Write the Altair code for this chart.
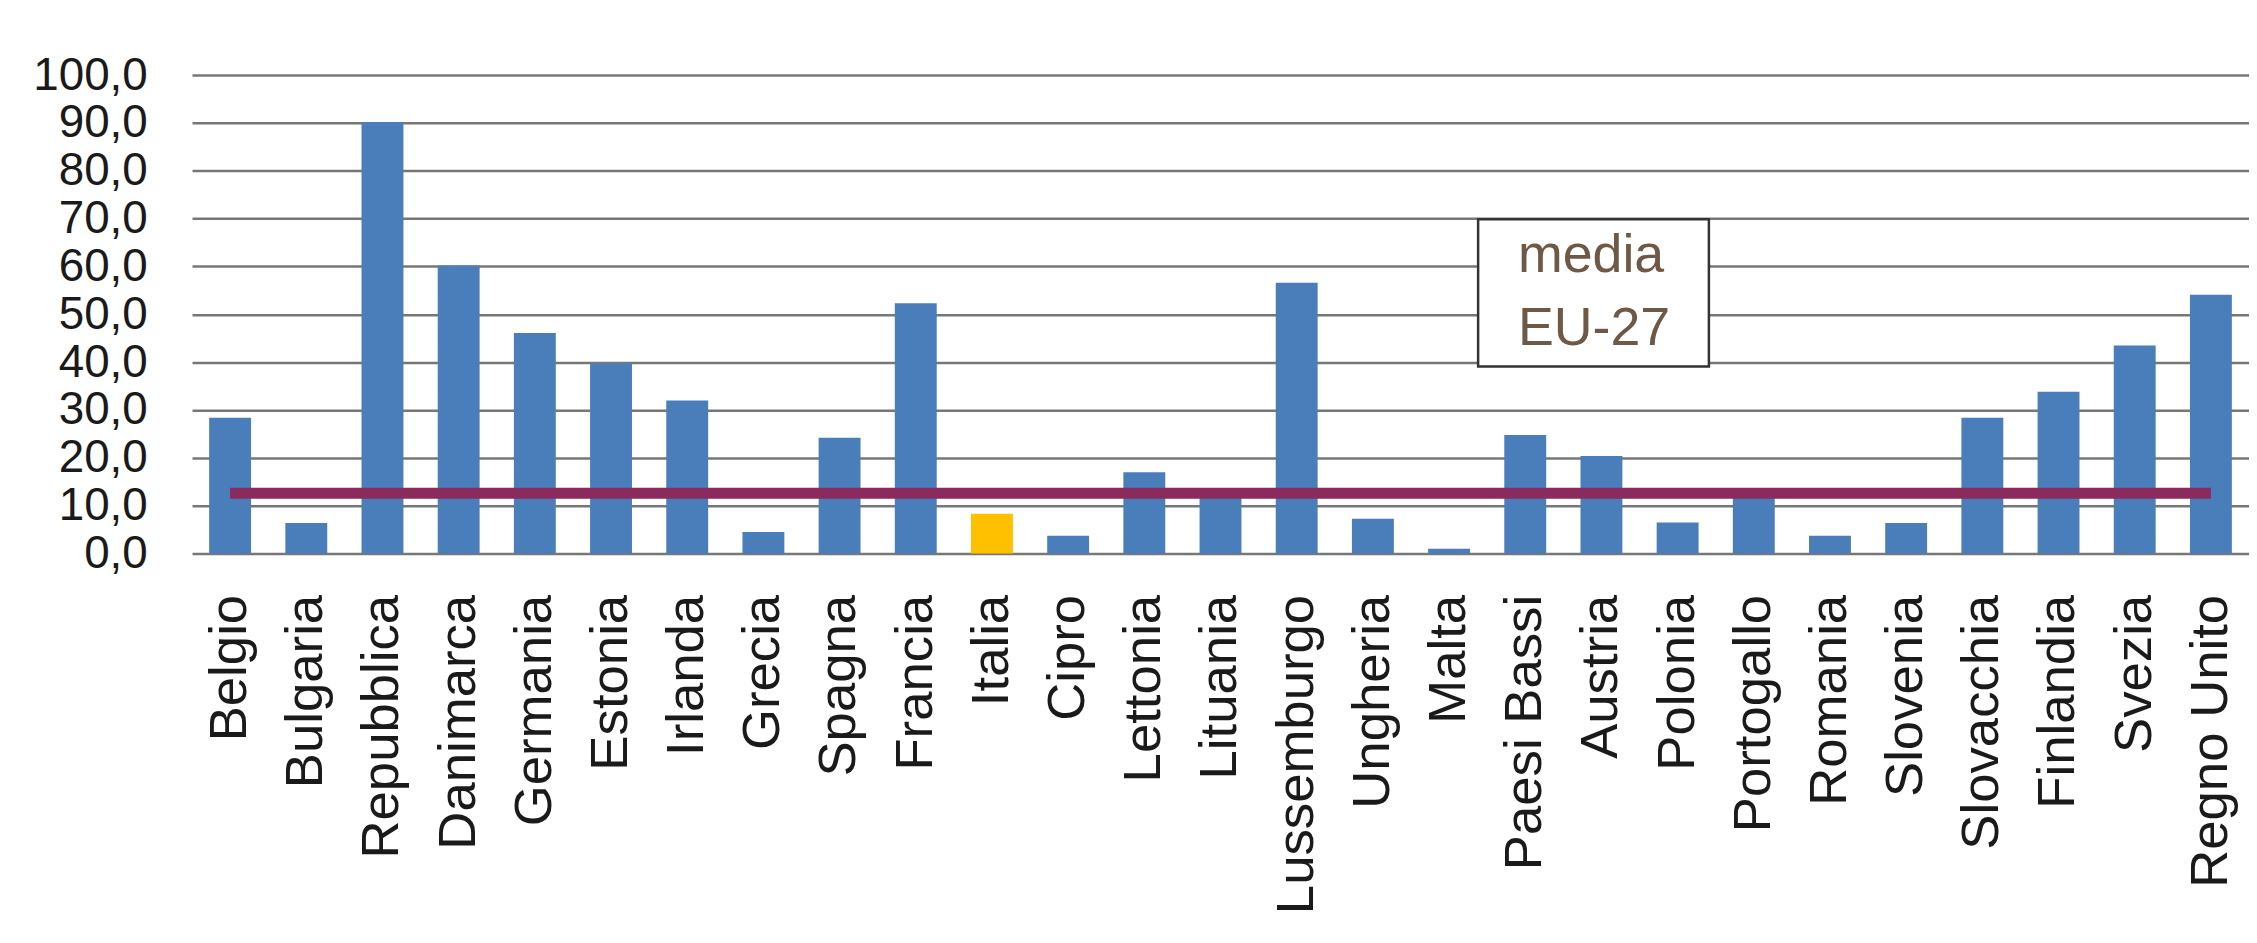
import altair as alt
import pandas as pd

# ---- data ----
paesi = ["Belgio", "Bulgaria", "Repubblica", "Danimarca", "Germania", "Estonia",
         "Irlanda", "Grecia", "Spagna", "Francia", "Italia", "Cipro", "Lettonia",
         "Lituania", "Lussemburgo", "Ungheria", "Malta", "Paesi Bassi", "Austria",
         "Polonia", "Portogallo", "Romania", "Slovenia", "Slovacchia", "Finlandia",
         "Svezia", "Regno Unito"]
valori = [28.4, 6.4, 90.2, 60.2, 46.1, 39.8, 32.0, 4.5, 24.2, 52.3, 8.3, 3.7, 17.0,
          12.2, 56.6, 7.3, 1.0, 24.8, 20.4, 6.5, 12.2, 3.7, 6.4, 28.4, 33.8, 43.5, 54.1]
media_eu27 = 12.6
evidenziato = "Italia"
y_ticks = [0, 10, 20, 30, 40, 50, 60, 70, 80, 90, 100]
legenda_righe = ["media", "EU-27"]

df = pd.DataFrame({
    "paese": paesi,
    "valore": valori,
    "media": [media_eu27] * len(paesi),
})

FONT = "Liberation Sans"
W, H = 2068, 481

x_enc = alt.X("paese:N", sort=paesi,
              scale=alt.Scale(paddingInner=0.45, paddingOuter=0.225),
              axis=alt.Axis(title=None, labelAngle=-90, labelFontSize=53,
                            labelFont=FONT, labelColor="#1a1a1a", labelPadding=41,
                            labelLimit=2000, ticks=False, domain=False, grid=False,
                            labelOverlap=False))

y_scale = alt.Scale(domain=[0, 100], nice=False)

bars = alt.Chart(df).mark_bar().encode(
    x=x_enc,
    y=alt.Y("valore:Q", scale=y_scale,
            axis=alt.Axis(title=None, values=y_ticks, grid=True, gridColor="#777777",
                          gridWidth=2.5, ticks=False, domain=False,
                          labelFontSize=46, labelFont=FONT, labelColor="#1a1a1a",
                          labelPadding=45, labelOverlap=False, labelLimit=2000,
                          labelExpr="replace(format(datum.value, '.1f'), '.', ',')")),
    color=alt.condition(alt.datum.paese == evidenziato,
                        alt.value("#FFC000"), alt.value("#4A7EBB")),
)

linea = alt.Chart(df).mark_line(color="#8B2A5C", strokeWidth=11, strokeCap="butt").encode(
    x=alt.X("paese:N", sort=paesi),
    y=alt.Y("media:Q", scale=y_scale),
)

box_df = pd.DataFrame({"k": [0]})
box = alt.Chart(box_df).mark_rect(fill="white", stroke="#333333", strokeWidth=2.5).encode(
    x=alt.value(1293), x2=alt.value(1525), y=alt.value(145), y2=alt.value(293)
)

txt1 = alt.Chart(pd.DataFrame({"t": [legenda_righe[0]]})).mark_text(
    align="left", baseline="alphabetic", font=FONT, fontSize=54, color="#6E5846"
).encode(text="t:N", x=alt.value(1333), y=alt.value(198))

txt2 = alt.Chart(pd.DataFrame({"t": [legenda_righe[1]]})).mark_text(
    align="left", baseline="alphabetic", font=FONT, fontSize=54, color="#6E5846"
).encode(text="t:N", x=alt.value(1333), y=alt.value(271))

chart = alt.layer(bars, linea, box, txt1, txt2).properties(
    width=W, height=H,
    autosize=alt.AutoSizeParams(type="none"),
    padding={"left": 185, "top": 65, "right": 0, "bottom": 378},
    background="white",
).configure_view(stroke=None)

chart.save("out.html", embed_options={"renderer": "svg", "actions": False})
